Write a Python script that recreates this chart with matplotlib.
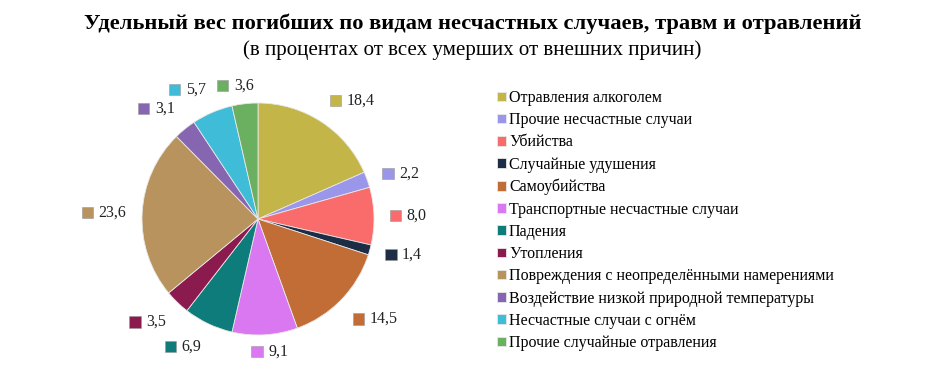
import matplotlib
matplotlib.use("Agg")
from matplotlib import pyplot as plt
from matplotlib.offsetbox import AnnotationBbox, DrawingArea, TextArea, HPacker
from matplotlib.patches import Rectangle
import numpy as np

categories = [
    "Отравления алкоголем",
    "Прочие несчастные случаи",
    "Убийства",
    "Случайные удушения",
    "Самоубийства",
    "Транспортные несчастные случаи",
    "Падения",
    "Утопления",
    "Повреждения с неопределёнными намерениями",
    "Воздействие низкой природной температуры",
    "Несчастные случаи с огнём",
    "Прочие случайные отравления",
]
values = [18.4, 2.2, 8.0, 1.4, 14.5, 9.1, 6.9, 3.5, 23.6, 3.1, 5.7, 3.6]
colors = ["#C4B548", "#9A96EA", "#FA6B6B", "#1D2D45", "#C26C36", "#D978F0",
          "#0E7C7B", "#8B1A4E", "#B8935E", "#8666B0", "#3FBCD8", "#6BAF60"]

plt.rcParams['font.family'] = ['Liberation Serif', 'DejaVu Serif']

W, H = 945, 374
fig = plt.figure(figsize=(W / 100, H / 100), dpi=100)

# pie axes: centre (258, 219) px from top-left, radius 116 px
R = 116
half = 150
ax = fig.add_axes([(258 - half) / W, (H - 219 - half) / H, 2 * half / W, 2 * half / H])
wedges, _ = ax.pie(values, colors=colors, startangle=90, counterclock=False, radius=1,
                   wedgeprops=dict(edgecolor="#e8e8e8", linewidth=0.6))
lim = half / R
ax.set_xlim(-lim, lim)
ax.set_ylim(-lim, lim)
ax.set_aspect("equal")
ax.axis("off")

# value labels: coloured square + number, placed outside each wedge
for w, v, c in zip(wedges, values, colors):
    ang = np.deg2rad((w.theta1 + w.theta2) / 2)
    cx, cy = np.cos(ang), np.sin(ang)
    da = DrawingArea(8, 8, 0, 0)
    da.add_artist(Rectangle((0, 0), 8, 8, facecolor=c, edgecolor="#999999", linewidth=0.4))
    ta = TextArea(f"{v:.1f}".replace(".", ","), textprops=dict(fontsize=11.5, color="#222222"))
    box = HPacker(children=[da, ta], align="center", pad=0, sep=4)
    ha = 0.5 - 0.5 * np.clip(abs(cx) / 0.25, 0, 1) * np.sign(cx)
    va = 0.5 - 0.5 * np.clip((abs(cy) - 0.3) / 0.4, 0, 1) * np.sign(cy)
    r = 1.14 - 0.08 * np.clip(1 - abs(cx) / 0.3, 0, 1)
    ab = AnnotationBbox(box, (r * cx, r * cy), xycoords="data", frameon=False,
                        box_alignment=(ha, va), pad=0)
    ax.add_artist(ab)

fig.text(0.5, 1 - 24 / H, "Удельный вес погибших по видам несчастных случаев, травм и отравлений",
         ha="center", va="center", fontsize=16.2, fontweight="bold")
fig.text(0.5, 1 - 50 / H, "(в процентах от всех умерших от внешних причин)",
         ha="center", va="center", fontsize=15.1)

fig.legend(wedges, categories, loc="upper left", bbox_to_anchor=(497 / W, 1 - 90 / H),
           frameon=False, fontsize=11.5, handlelength=0.55, handleheight=0.55,
           handletextpad=0.2, labelspacing=0.39, borderaxespad=0, borderpad=0)

fig.savefig("out.png", dpi=100)
